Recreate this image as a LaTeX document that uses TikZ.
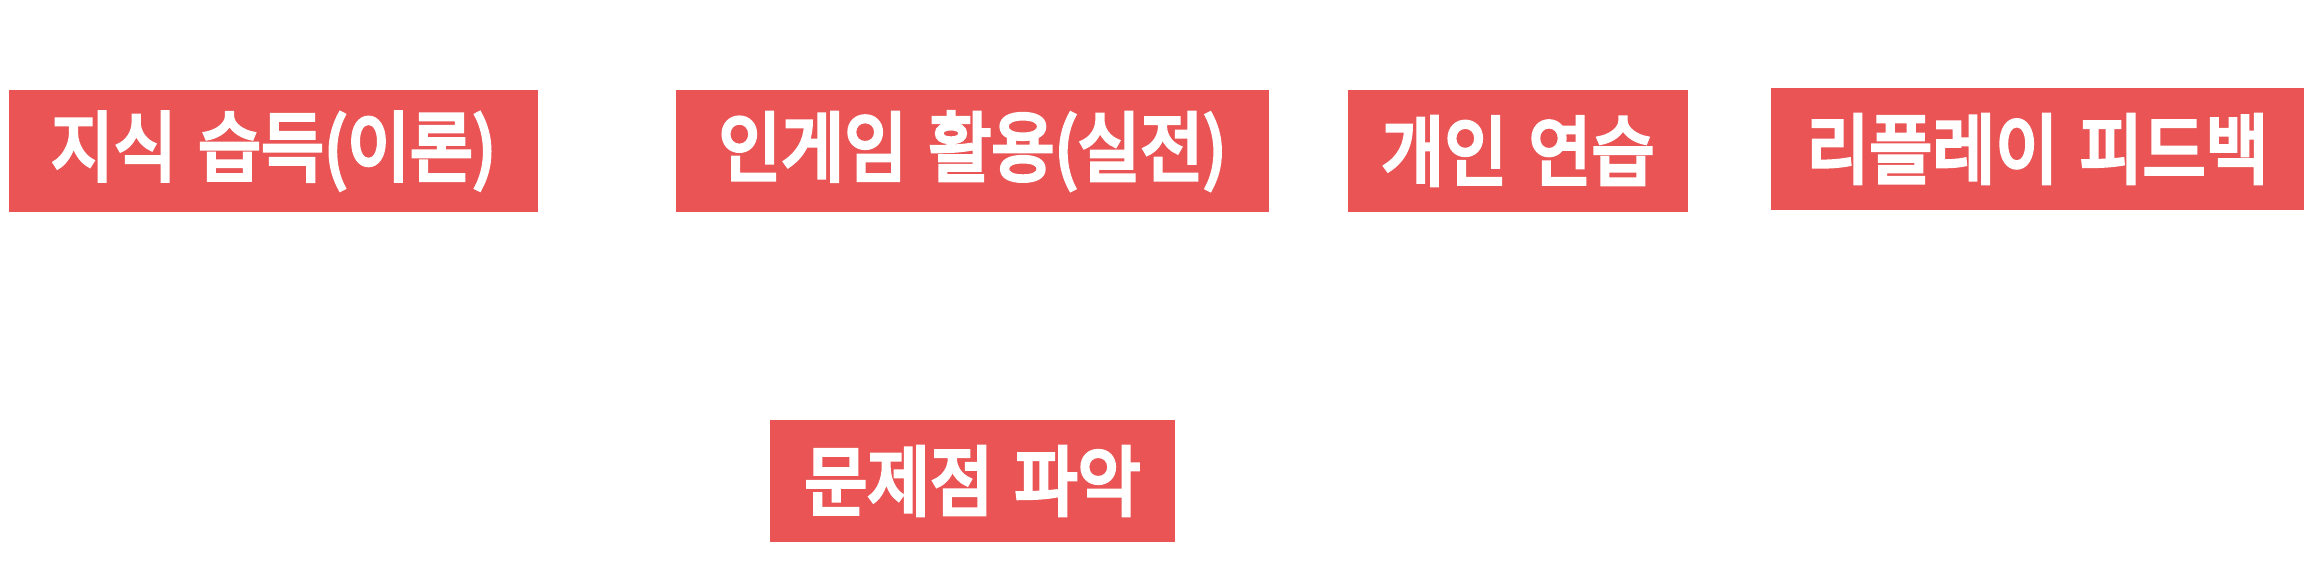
\documentclass[tikz,border=0pt]{standalone}
\usepackage{graphicx}
\usepackage{fontspec}
\newfontfamily\krfont{Noto Sans CJK KR}[FakeBold=5,WordSpace=1.4]
\definecolor{boxred}{RGB}{234,84,85}
\newcommand{\boxtext}[1]{\scalebox{0.9}[1]{#1}}

\begin{document}
\begin{tikzpicture}[x=0.5pt,y=-0.5pt,
    redbox/.style={fill=boxred,inner sep=0pt,minimum height=61pt,
      text=white,font=\krfont\fontsize{38pt}{42pt}\selectfont}]

          % frame
          \useasboundingbox (0,0) rectangle (2313,569);

          % top row
          \node[redbox,minimum width=264.5pt] (theory) at (273.5,151) {\boxtext{지식 습득(이론)}};
          \node[redbox,minimum width=296.5pt] (ingame) at (972.5,151) {\boxtext{인게임 활용(실전)}};
          \node[redbox,minimum width=170pt] (practice) at (1518,151) {\boxtext{개인 연습}};
          \node[redbox,minimum width=266.5pt] (replay) at (2037.5,149) {\boxtext{리플레이 피드백}};

          % bottom
          \node[redbox,minimum width=202.5pt] (problem) at (972.5,481) {\boxtext{문제점 파악}};
        \end{tikzpicture}
\end{document}
